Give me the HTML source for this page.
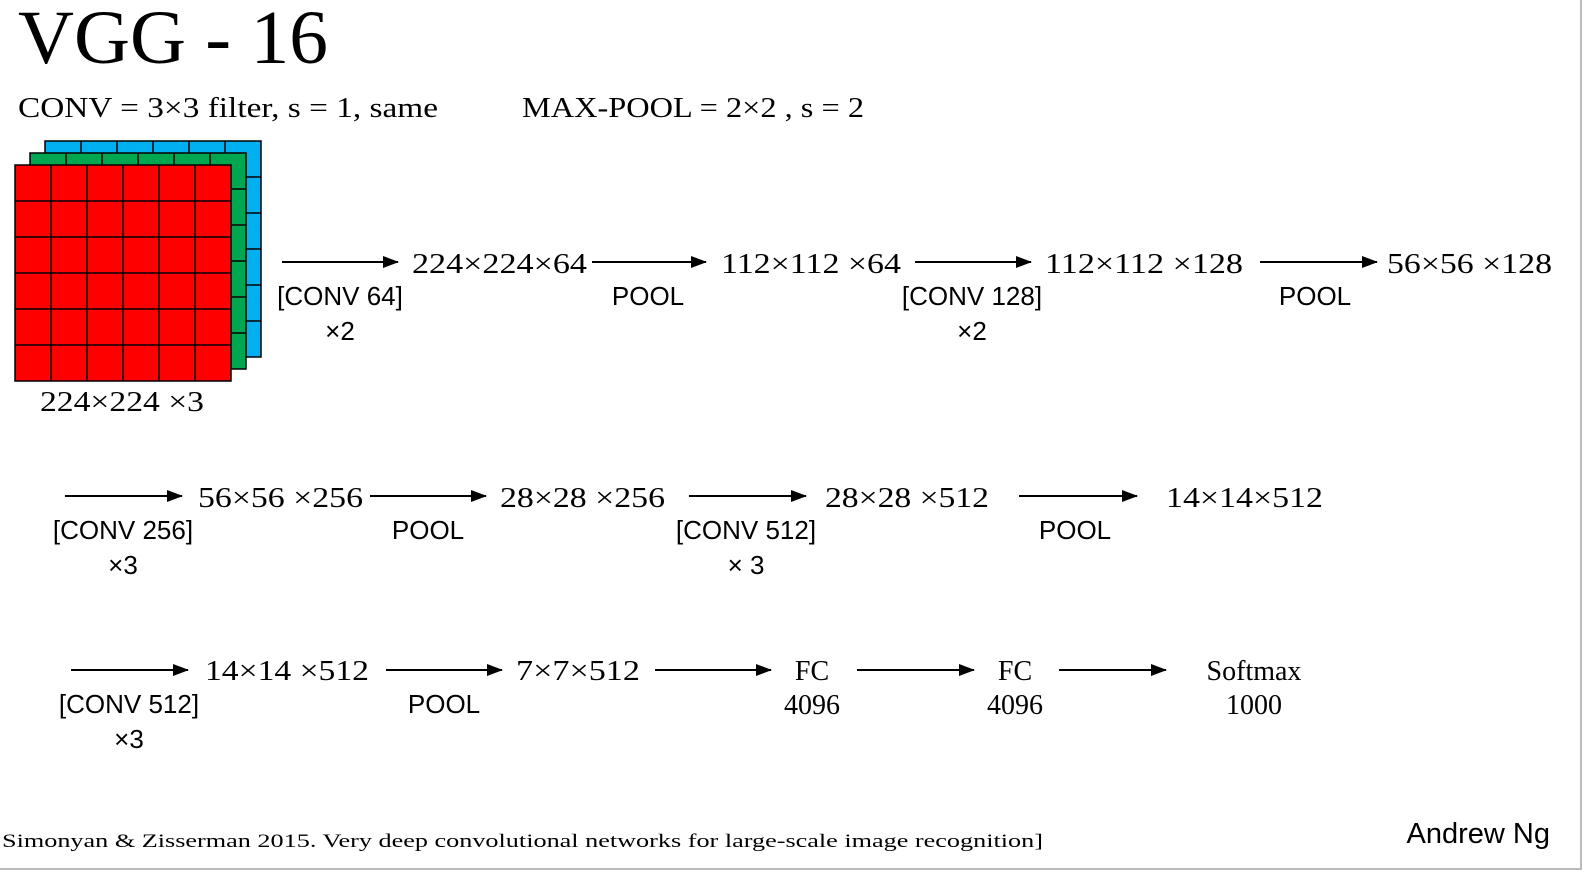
<!DOCTYPE html>
<html><head><meta charset="utf-8"><style>
html,body{margin:0;padding:0;background:#fff;}
svg{display:block;}
.s{font-family:"Liberation Serif",serif;fill:#000;}
.a{font-family:"Liberation Sans",sans-serif;fill:#000;}
</style></head><body>
<svg width="1584" height="874" viewBox="0 0 1584 874" xmlns="http://www.w3.org/2000/svg">
<defs><marker id="ar" markerWidth="16" markerHeight="12" refX="15" refY="6" orient="auto" markerUnits="userSpaceOnUse"><path d="M0,0 L16,6 L0,12 z" fill="#000"/></marker></defs>
<rect x="0" y="0" width="1584" height="874" fill="#fff"/>
<line x1="1581" y1="0" x2="1581" y2="870" stroke="#bbb" stroke-width="2"/>
<line x1="0" y1="869" x2="1582" y2="869" stroke="#bbb" stroke-width="2"/>
<text class="s" x="18" y="63" font-size="76" textLength="310" lengthAdjust="spacingAndGlyphs">VGG - 16</text>
<text class="s" x="18" y="117" font-size="28" textLength="420" lengthAdjust="spacingAndGlyphs">CONV = 3×3 filter, s = 1, same</text>
<text class="s" x="522" y="117" font-size="28" textLength="342" lengthAdjust="spacingAndGlyphs">MAX-POOL = 2×2 , s = 2</text>
<g stroke="#000" stroke-width="1.5">
<rect x="45" y="141" width="216" height="216" fill="#00b0f0"/>
<line x1="81" y1="141" x2="81" y2="357"/><line x1="117" y1="141" x2="117" y2="357"/><line x1="153" y1="141" x2="153" y2="357"/><line x1="189" y1="141" x2="189" y2="357"/><line x1="225" y1="141" x2="225" y2="357"/>
<line x1="45" y1="177" x2="261" y2="177"/><line x1="45" y1="213" x2="261" y2="213"/><line x1="45" y1="249" x2="261" y2="249"/><line x1="45" y1="285" x2="261" y2="285"/><line x1="45" y1="321" x2="261" y2="321"/>
<rect x="30" y="153" width="216" height="216" fill="#00a650"/>
<line x1="66" y1="153" x2="66" y2="369"/><line x1="102" y1="153" x2="102" y2="369"/><line x1="138" y1="153" x2="138" y2="369"/><line x1="174" y1="153" x2="174" y2="369"/><line x1="210" y1="153" x2="210" y2="369"/>
<line x1="30" y1="189" x2="246" y2="189"/><line x1="30" y1="225" x2="246" y2="225"/><line x1="30" y1="261" x2="246" y2="261"/><line x1="30" y1="297" x2="246" y2="297"/><line x1="30" y1="333" x2="246" y2="333"/>
<rect x="15" y="165" width="216" height="216" fill="#ff0000"/>
<line x1="51" y1="165" x2="51" y2="381"/><line x1="87" y1="165" x2="87" y2="381"/><line x1="123" y1="165" x2="123" y2="381"/><line x1="159" y1="165" x2="159" y2="381"/><line x1="195" y1="165" x2="195" y2="381"/>
<line x1="15" y1="201" x2="231" y2="201"/><line x1="15" y1="237" x2="231" y2="237"/><line x1="15" y1="273" x2="231" y2="273"/><line x1="15" y1="309" x2="231" y2="309"/><line x1="15" y1="345" x2="231" y2="345"/>
</g>
<text class="s" x="40" y="411" font-size="28" textLength="164" lengthAdjust="spacingAndGlyphs">224×224 ×3</text>
<g stroke="#000" stroke-width="2" marker-end="url(#ar)">
<line x1="282" y1="262" x2="398" y2="262"/><line x1="592" y1="262" x2="706" y2="262"/><line x1="915" y1="262" x2="1031" y2="262"/><line x1="1260" y1="262" x2="1377" y2="262"/>
<line x1="65" y1="496" x2="182" y2="496"/><line x1="370" y1="496" x2="486" y2="496"/><line x1="689" y1="496" x2="806" y2="496"/><line x1="1019" y1="496" x2="1137" y2="496"/>
<line x1="71" y1="670" x2="188" y2="670"/><line x1="386" y1="670" x2="502" y2="670"/><line x1="655" y1="670" x2="771" y2="670"/><line x1="857" y1="670" x2="974" y2="670"/><line x1="1059" y1="670" x2="1166" y2="670"/>
</g>
<g class="s" font-size="28">
<text x="412" y="273" textLength="175" lengthAdjust="spacingAndGlyphs">224×224×64</text>
<text x="721" y="273" textLength="180" lengthAdjust="spacingAndGlyphs">112×112 ×64</text>
<text x="1045" y="273" textLength="198" lengthAdjust="spacingAndGlyphs">112×112 ×128</text>
<text x="1387" y="273" textLength="165" lengthAdjust="spacingAndGlyphs">56×56 ×128</text>
<text x="198" y="507" textLength="165" lengthAdjust="spacingAndGlyphs">56×56 ×256</text>
<text x="500" y="507" textLength="165" lengthAdjust="spacingAndGlyphs">28×28 ×256</text>
<text x="825" y="507" textLength="164" lengthAdjust="spacingAndGlyphs">28×28 ×512</text>
<text x="1166" y="507" textLength="157" lengthAdjust="spacingAndGlyphs">14×14×512</text>
<text x="205" y="680" textLength="164" lengthAdjust="spacingAndGlyphs">14×14 ×512</text>
<text x="516" y="680" textLength="124" lengthAdjust="spacingAndGlyphs">7×7×512</text>
<text x="812" y="680" text-anchor="middle">FC</text>
<text x="812" y="714" text-anchor="middle">4096</text>
<text x="1015" y="680" text-anchor="middle">FC</text>
<text x="1015" y="714" text-anchor="middle">4096</text>
<text x="1254" y="680" text-anchor="middle">Softmax</text>
<text x="1254" y="714" text-anchor="middle">1000</text>
</g>
<g class="a" font-size="26" text-anchor="middle">
<text x="340" y="305">[CONV 64]</text><text x="340" y="340">×2</text>
<text x="648" y="305">POOL</text>
<text x="972" y="305">[CONV 128]</text><text x="972" y="340">×2</text>
<text x="1315" y="305">POOL</text>
<text x="123" y="539">[CONV 256]</text><text x="123" y="574">×3</text>
<text x="428" y="539">POOL</text>
<text x="746" y="539">[CONV 512]</text><text x="746" y="574">× 3</text>
<text x="1075" y="539">POOL</text>
<text x="129" y="713">[CONV 512]</text><text x="129" y="748">×3</text>
<text x="444" y="713">POOL</text>
</g>
<text class="s" x="2" y="847" font-size="19" textLength="1041" lengthAdjust="spacingAndGlyphs">Simonyan &amp; Zisserman 2015. Very deep convolutional networks for large-scale image recognition]</text>
<text class="a" x="1550" y="843" font-size="29" text-anchor="end">Andrew Ng</text>
</svg>
</body></html>
